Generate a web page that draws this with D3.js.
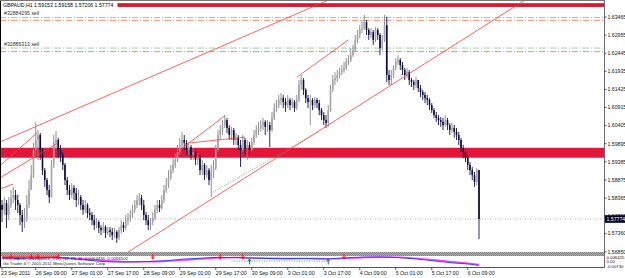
<!DOCTYPE html>
<html><head><meta charset="utf-8">
<script src="https://cdn.jsdelivr.net/npm/d3@7"></script>
<style>body{margin:0;background:#fff;overflow:hidden}svg{display:block;font-family:"Liberation Sans",Arial,sans-serif}</style>
</head><body><svg id="c" width="625" height="278"></svg>
<script>
const symbolTitle = "GBPAUD,H1  1.59153 1.59158 1.57206 1.57774";
const opens = [
1.5817,1.5803,1.5822,1.5789,1.5817,1.5837,1.5845,1.5831,1.5817,1.5789,
1.5769,1.5780,1.5817,1.5859,1.5901,1.5972,1.6000,1.6014,1.5972,1.5915,
1.5887,1.5859,1.5839,1.5930,1.5994,1.6000,1.5972,1.5958,1.5930,1.5887,
1.5859,1.5845,1.5865,1.5851,1.5831,1.5839,1.5817,1.5803,1.5817,1.5794,
1.5789,1.5774,1.5760,1.5769,1.5752,1.5746,1.5755,1.5738,1.5746,1.5741,
1.5732,1.5741,1.5724,1.5746,1.5760,1.5752,1.5774,1.5780,1.5789,1.5803,
1.5817,1.5831,1.5837,1.5817,1.5789,1.5774,1.5760,1.5769,1.5780,1.5803,
1.5817,1.5808,1.5831,1.5859,1.5873,1.5893,1.5915,1.5930,1.5944,1.5966,
1.5986,1.6000,1.5992,1.5972,1.5980,1.5958,1.5966,1.5944,1.5949,1.5915,
1.5930,1.5901,1.5915,1.5887,1.5910,1.5921,1.5972,1.6014,1.6028,1.6042,
1.6056,1.6034,1.6014,1.6028,1.6000,1.6006,1.5986,1.5972,1.6000,1.5977,
1.5986,1.5972,1.5994,1.6014,1.6028,1.6034,1.6042,1.6051,1.6037,1.6042,
1.6028,1.6062,1.6090,1.6098,1.6113,1.6118,1.6107,1.6098,1.6113,1.6098,
1.6107,1.6090,1.6113,1.6155,1.6169,1.6141,1.6118,1.6107,1.6113,1.6098,
1.6113,1.6104,1.6084,1.6070,1.6056,1.6048,1.6084,1.6141,1.6169,1.6174,
1.6183,1.6191,1.6197,1.6203,1.6220,1.6225,1.6239,1.6253,1.6282,1.6296,
1.6310,1.6315,1.6332,1.6310,1.6296,1.6304,1.6282,1.6310,1.6296,1.6259,
1.6282,1.6324,1.6183,1.6169,1.6183,1.6203,1.6220,1.6225,1.6211,1.6197,
1.6183,1.6191,1.6169,1.6163,1.6155,1.6169,1.6146,1.6135,1.6127,1.6118,
1.6113,1.6098,1.6084,1.6070,1.6062,1.6056,1.6051,1.6042,1.6056,1.6042,
1.6028,1.6034,1.6023,1.6014,1.6000,1.5977,1.5966,1.5949,1.5930,1.5915,
1.5901,1.5882,1.59153];
const highs = [
1.5831,1.5839,1.5831,1.5839,1.5859,1.5868,1.5859,1.5845,1.5822,1.5803,
1.5808,1.5845,1.5887,1.5930,1.5992,1.6051,1.6028,1.6020,1.5977,1.5921,
1.5893,1.5873,1.5944,1.6014,1.6025,1.6006,1.5986,1.5966,1.5935,1.5896,
1.5873,1.5879,1.5873,1.5865,1.5859,1.5845,1.5831,1.5831,1.5822,1.5808,
1.5797,1.5789,1.5780,1.5774,1.5760,1.5769,1.5760,1.5755,1.5755,1.5752,
1.5752,1.5746,1.5755,1.5774,1.5769,1.5789,1.5794,1.5803,1.5817,1.5831,
1.5845,1.5851,1.5845,1.5831,1.5797,1.5789,1.5780,1.5797,1.5817,1.5831,
1.5831,1.5845,1.5873,1.5893,1.5915,1.5930,1.5949,1.5963,1.5986,1.6006,
1.6023,1.6014,1.6000,1.5994,1.5986,1.5977,1.5972,1.5963,1.5958,1.5944,
1.5935,1.5930,1.5921,1.5930,1.5944,1.5986,1.6028,1.6042,1.6056,1.6070,
1.6062,1.6042,1.6037,1.6034,1.6020,1.6014,1.6000,1.6014,1.6006,1.6000,
1.5994,1.6006,1.6028,1.6042,1.6051,1.6056,1.6062,1.6056,1.6056,1.6051,
1.6079,1.6104,1.6113,1.6127,1.6132,1.6127,1.6118,1.6127,1.6118,1.6118,
1.6113,1.6127,1.6169,1.6183,1.6174,1.6146,1.6127,1.6127,1.6118,1.6121,
1.6118,1.6113,1.6090,1.6079,1.6070,1.6098,1.6155,1.6183,1.6191,1.6197,
1.6203,1.6211,1.6220,1.6231,1.6239,1.6259,1.6268,1.6296,1.6310,1.6324,
1.6338,1.6352,1.6338,1.6315,1.6315,1.6310,1.6318,1.6315,1.6301,1.6296,
1.6352,1.6347,1.6197,1.6197,1.6211,1.6231,1.6239,1.6231,1.6220,1.6203,
1.6203,1.6197,1.6174,1.6169,1.6177,1.6169,1.6155,1.6141,1.6135,1.6127,
1.6118,1.6104,1.6090,1.6079,1.6070,1.6065,1.6062,1.6070,1.6062,1.6048,
1.6048,1.6042,1.6034,1.6023,1.6006,1.5986,1.5972,1.5958,1.5938,1.5924,
1.5910,1.5921,1.59158];
const lows = [
1.5769,1.5789,1.5752,1.5774,1.5808,1.5822,1.5803,1.5794,1.5760,1.5741,
1.5752,1.5769,1.5808,1.5859,1.5893,1.5958,1.5944,1.5944,1.5901,1.5868,
1.5845,1.5822,1.5837,1.5921,1.5972,1.5949,1.5938,1.5915,1.5873,1.5845,
1.5831,1.5837,1.5831,1.5811,1.5817,1.5803,1.5789,1.5794,1.5780,1.5774,
1.5760,1.5746,1.5752,1.5738,1.5732,1.5738,1.5724,1.5732,1.5727,1.5718,
1.5724,1.5710,1.5718,1.5738,1.5741,1.5746,1.5760,1.5769,1.5780,1.5794,
1.5808,1.5817,1.5803,1.5774,1.5760,1.5746,1.5746,1.5760,1.5774,1.5794,
1.5797,1.5803,1.5822,1.5851,1.5865,1.5887,1.5907,1.5921,1.5938,1.5958,
1.5977,1.5972,1.5958,1.5958,1.5944,1.5944,1.5930,1.5930,1.5901,1.5901,
1.5887,1.5893,1.5873,1.5839,1.5893,1.5915,1.5966,1.6000,1.6014,1.6034,
1.6020,1.6000,1.6000,1.5986,1.5986,1.5972,1.5924,1.5966,1.5958,1.5944,
1.5958,1.5966,1.5986,1.6006,1.6014,1.6023,1.6028,1.6014,1.6023,1.5980,
1.6023,1.6056,1.6079,1.6090,1.6098,1.6090,1.6079,1.6090,1.6084,1.6090,
1.6079,1.6084,1.6107,1.6141,1.6127,1.6104,1.6090,1.6042,1.6084,1.6090,
1.6090,1.6070,1.6056,1.6042,1.6034,1.6037,1.6079,1.6135,1.6155,1.6163,
1.6174,1.6183,1.6189,1.6197,1.6211,1.6220,1.6234,1.6248,1.6273,1.6287,
1.6301,1.6310,1.6296,1.6282,1.6287,1.6268,1.6276,1.6282,1.6239,1.6253,
1.6276,1.6163,1.6155,1.6155,1.6174,1.6197,1.6211,1.6197,1.6183,1.6169,
1.6174,1.6155,1.6149,1.6141,1.6146,1.6135,1.6121,1.6113,1.6104,1.6098,
1.6084,1.6076,1.6062,1.6051,1.6042,1.6037,1.6028,1.6037,1.6028,1.6014,
1.6020,1.6006,1.6000,1.5986,1.5966,1.5949,1.5938,1.5915,1.5901,1.5887,
1.5868,1.5873,1.57206];
const closes = [
1.5803,1.5822,1.5789,1.5817,1.5837,1.5845,1.5831,1.5817,1.5789,1.5769,
1.5780,1.5817,1.5859,1.5901,1.5972,1.6000,1.6014,1.5972,1.5915,1.5887,
1.5859,1.5839,1.5930,1.5994,1.6000,1.5972,1.5958,1.5930,1.5887,1.5859,
1.5845,1.5865,1.5851,1.5831,1.5839,1.5817,1.5803,1.5817,1.5794,1.5789,
1.5774,1.5760,1.5769,1.5752,1.5746,1.5755,1.5738,1.5746,1.5741,1.5732,
1.5741,1.5724,1.5746,1.5760,1.5752,1.5774,1.5780,1.5789,1.5803,1.5817,
1.5831,1.5837,1.5817,1.5789,1.5774,1.5760,1.5769,1.5780,1.5803,1.5817,
1.5808,1.5831,1.5859,1.5873,1.5893,1.5915,1.5930,1.5944,1.5966,1.5986,
1.6000,1.5992,1.5972,1.5980,1.5958,1.5966,1.5944,1.5949,1.5915,1.5930,
1.5901,1.5915,1.5887,1.5910,1.5921,1.5972,1.6014,1.6028,1.6042,1.6056,
1.6034,1.6014,1.6028,1.6000,1.6006,1.5986,1.5972,1.6000,1.5977,1.5986,
1.5972,1.5994,1.6014,1.6028,1.6034,1.6042,1.6051,1.6037,1.6042,1.6028,
1.6062,1.6090,1.6098,1.6113,1.6118,1.6107,1.6098,1.6113,1.6098,1.6107,
1.6090,1.6113,1.6155,1.6169,1.6141,1.6118,1.6107,1.6113,1.6098,1.6113,
1.6104,1.6084,1.6070,1.6056,1.6048,1.6084,1.6141,1.6169,1.6174,1.6183,
1.6191,1.6197,1.6203,1.6220,1.6225,1.6239,1.6253,1.6282,1.6296,1.6310,
1.6315,1.6332,1.6310,1.6296,1.6304,1.6282,1.6310,1.6296,1.6259,1.6282,
1.6324,1.6183,1.6169,1.6183,1.6203,1.6220,1.6225,1.6211,1.6197,1.6183,
1.6191,1.6169,1.6163,1.6155,1.6169,1.6146,1.6135,1.6127,1.6118,1.6113,
1.6098,1.6084,1.6070,1.6062,1.6056,1.6051,1.6042,1.6056,1.6042,1.6028,
1.6034,1.6023,1.6014,1.6000,1.5977,1.5966,1.5949,1.5930,1.5915,1.5901,
1.5882,1.59153,1.57774];

const timeLabels = ["23 Sep 2011","26 Sep 09:00","27 Sep 01:00","27 Sep 17:00","28 Sep 09:00","29 Sep 01:00","29 Sep 17:00","30 Sep 09:00","3 Oct 01:00","3 Oct 17:00","4 Oct 09:00","5 Oct 01:00","5 Oct 17:00","6 Oct 09:00"];
const timeLabelBars = [0,15,31,47,63,79,95,111,127,143,159,175,191,207];
const priceTickLabels = ["1.63465","1.62955","1.62445","1.61935","1.61425","1.60915","1.60405","1.59895","1.59385","1.58875","1.58365","1.57855","1.57360","1.56850"];
const lastPrice = 1.57774;
const zoneLow = 1.5950, zoneHigh = 1.5978;
const topLevel = 1.6380, topLevelStartBar = 51.5;
const orderLabels = ["#32884295 sell", "#32885313 sell"];
const orderPrices = [1.6345, 1.6259];
const orderStops = [1.6337, 1.6249];
const trendLines = [
  [-1, 1.5994, 145, 1.6394],
  [-1, 1.5927, 15.6, 1.6020],
  [-1, 1.5893, 24.9, 1.5992],
  [-1, 1.5862, 4.9, 1.5876],
  [79, 1.5972, 99, 1.6068],
  [83.6, 1.5992, 108, 1.6008],
  [131, 1.6177, 154, 1.6282],
  [56, 1.5684, 232.4, 1.6394]
];
const dottedLine = [93.8, 1.5853, 140.4, 1.6022];

const indTitle = "FX5_MACD_Divergence_V1.1 (12, 26, 9)  -0.0064435  -0.0064502";
const copyright = "Go Trader 4 \u00a9 2001-2011 MetaQuotes Software Corp.";
const indTickLabels = ["0.006425","0.00","-0.00730"];
const indTickValues = [0.006425, 0.0, -0.0073];
const macdBars = [0,8,16,24,32,40,48,56,64,72,80,88,96,104,112,120,128,136,144,152,160,168,176,184,192,200,208,212];
const macdMain = [0.0050,0.0045,0.0055,0.0058,0.0035,0.0010,-0.0010,-0.0012,-0.0005,0.0005,0.0030,0.0045,0.0058,0.0055,0.0045,0.0040,0.0040,0.0042,0.0035,0.0050,0.0062,0.0064,0.0055,0.0035,0.0005,-0.0025,-0.0045,-0.0064];
const macdSignal = [0.0055,0.0050,0.0050,0.0055,0.0045,0.0025,0.0005,-0.0008,-0.0008,-0.0002,0.0015,0.0035,0.0050,0.0056,0.0050,0.0044,0.0040,0.0041,0.0038,0.0042,0.0055,0.0062,0.0060,0.0045,0.0020,-0.0010,-0.0035,-0.0050];
const bearArrowBars = [4,13,16,25,67,97,107,152];
const bullArrowBars = [110,145];
const bearDivLine = [0, 0.0068, 25, 0.0068];
const bullDivLine = [102, 0.0003, 145, 0.0003];

// ---------- layout ----------
const RX = 604, MB = 252, IT = 256, IB = 267;
const FS = 5.2;
const svg = d3.select("#c");
svg.append("rect").attr("width",625).attr("height",278).attr("fill","#fff");
const x = d3.scaleLinear().domain([0,212]).range([2,479]);
const y = d3.scaleLinear().domain([1.5685,1.63465]).range([251.8,17]);
const yi = d3.scaleLinear().domain([-0.0073,0.006425]).range([266,257]);

const defs = svg.append("defs");
defs.append("clipPath").attr("id","cm").append("rect").attr("x",0).attr("y",0).attr("width",RX).attr("height",MB);
defs.append("clipPath").attr("id","ci").append("rect").attr("x",0).attr("y",IT-2).attr("width",RX).attr("height",IB-IT+2);
const pat = defs.append("pattern").attr("id","sep").attr("width",2).attr("height",2).attr("patternUnits","userSpaceOnUse");
pat.append("rect").attr("width",2).attr("height",2).attr("fill","#b4b4b4");
pat.append("rect").attr("width",1).attr("height",1).attr("fill","#808080");
pat.append("rect").attr("x",1).attr("y",1).attr("width",1).attr("height",1).attr("fill","#808080");

const main = svg.append("g").attr("clip-path","url(#cm)");

// zone
main.append("rect").attr("x",0).attr("width",RX)
  .attr("y",y(zoneHigh)).attr("height",y(zoneLow)-y(zoneHigh)).attr("fill","#e3163a");
// order lines
orderPrices.forEach((p,k)=>{
  main.append("line").attr("x1",0).attr("x2",RX).attr("y1",y(p)).attr("y2",y(p))
    .attr("stroke","#9ad49a").attr("stroke-width",1).attr("stroke-dasharray","6,2,1,2");
  main.append("line").attr("x1",0).attr("x2",RX).attr("y1",y(orderStops[k])).attr("y2",y(orderStops[k]))
    .attr("stroke","#ff8a6a").attr("stroke-width",1).attr("stroke-dasharray","6,2,1,2");
  main.append("text").attr("x",4).attr("y",y(p)-2.5).attr("font-size",FS).attr("fill","#333")
    .text(orderLabels[k]);
});
// top level line
main.append("rect").attr("x",x(topLevelStartBar)).attr("width",RX-x(topLevelStartBar))
  .attr("y",y(topLevel)-1.6).attr("height",3.2).attr("fill","#e8102a").attr("stroke","#b00018").attr("stroke-width",0.5);
// last price dotted
main.append("line").attr("x1",0).attr("x2",RX).attr("y1",y(lastPrice)).attr("y2",y(lastPrice))
  .attr("stroke","#a8a8a8").attr("stroke-width",0.8).attr("stroke-dasharray","1,1.5");

// candles
const idx = d3.range(closes.length);
const cg = main.append("g");
idx.forEach(i=>{
  const bull = closes[i] >= opens[i];
  cg.append("line").attr("x1",x(i)).attr("x2",x(i)).attr("y1",y(highs[i])).attr("y2",y(lows[i]))
    .attr("stroke", bull ? "#858585" : "#141444").attr("stroke-width",0.9);
  const top = y(Math.max(opens[i],closes[i])), bot = y(Math.min(opens[i],closes[i]));
  cg.append("rect").attr("x",x(i)-0.8).attr("width",1.6).attr("y",top).attr("height",Math.max(0.8,bot-top))
    .attr("fill", bull ? "#a4a4a4" : "#0a0a40");
});

// trend lines
trendLines.forEach(t=>{
  main.append("line").attr("x1",x(t[0])).attr("y1",y(t[1])).attr("x2",x(t[2])).attr("y2",y(t[3]))
    .attr("stroke","#ff3a3a").attr("stroke-width",0.8);
});
main.append("line").attr("x1",x(dottedLine[0])).attr("y1",y(dottedLine[1])).attr("x2",x(dottedLine[2])).attr("y2",y(dottedLine[3]))
  .attr("stroke","#3aa03a").attr("stroke-width",0.8).attr("stroke-dasharray","1,1.5");

// title
svg.append("text").attr("x",3).attr("y",7.2).attr("font-size",FS).attr("fill","#000").text(symbolTitle);

// separator
svg.append("rect").attr("x",0).attr("y",MB).attr("width",RX).attr("height",IT-MB).attr("fill","url(#sep)");

// indicator
const ind = svg.append("g").attr("clip-path","url(#ci)");
const lineGen = d3.line().x((d,k)=>x(macdBars[k])).y(d=>yi(d)).curve(d3.curveMonotoneX);
ind.append("path").datum(macdSignal).attr("d",lineGen).attr("fill","none").attr("stroke","#ff44ff").attr("stroke-width",1.6);
ind.append("path").datum(macdMain).attr("d",lineGen).attr("fill","none").attr("stroke","#3c3cff").attr("stroke-width",1);
ind.append("line").attr("x1",x(bearDivLine[0])).attr("x2",x(bearDivLine[2])).attr("y1",yi(bearDivLine[1])).attr("y2",yi(bearDivLine[3]))
  .attr("stroke","#ff2020").attr("stroke-width",1);
ind.append("line").attr("x1",x(bullDivLine[0])).attr("x2",x(bullDivLine[2])).attr("y1",yi(bullDivLine[1])).attr("y2",yi(bullDivLine[3]))
  .attr("stroke","#20a020").attr("stroke-width",0.8).attr("stroke-dasharray","1,1.5");
svg.append("text").attr("x",3).attr("y",260.2).attr("font-size",4.3).attr("fill","#222").text(indTitle);
svg.append("text").attr("x",3).attr("y",264.6).attr("font-size",4.3).attr("fill","#222").text(copyright);
bearArrowBars.forEach(b=>{
  const cx = x(b);
  svg.append("path").attr("d",`M${cx},254 L${cx},258.5 M${cx-1.5},256.5 L${cx},259 L${cx+1.5},256.5`)
    .attr("stroke","#ff0000").attr("stroke-width",0.9).attr("fill","none");
});
bullArrowBars.forEach(b=>{
  const cx = x(b);
  svg.append("path").attr("d",`M${cx},264.5 L${cx},259.5 M${cx-1.5},261.5 L${cx},259 L${cx+1.5},261.5`)
    .attr("stroke","#008800").attr("stroke-width",0.9).attr("fill","none");
});

// frame
svg.append("line").attr("x1",0.5).attr("x2",0.5).attr("y1",0).attr("y2",IB).attr("stroke","#000").attr("stroke-width",1);
svg.append("line").attr("x1",0).attr("x2",RX).attr("y1",0.5).attr("y2",0.5).attr("stroke","#777").attr("stroke-width",1);
svg.append("line").attr("x1",0).attr("x2",RX+0.5).attr("y1",IB+0.5).attr("y2",IB+0.5).attr("stroke","#555").attr("stroke-width",1);
svg.append("line").attr("x1",RX+0.5).attr("x2",RX+0.5).attr("y1",0).attr("y2",IB+1).attr("stroke","#6a6a7a").attr("stroke-width",1);

// right axis
const pv = priceTickLabels.map(Number);
pv.forEach((v,k)=>{
  svg.append("line").attr("x1",RX).attr("x2",RX+2.5).attr("y1",y(v)).attr("y2",y(v)).attr("stroke","#333").attr("stroke-width",0.8);
  svg.append("text").attr("x",RX+3.5).attr("y",y(v)+1.8).attr("font-size",FS).attr("fill","#111").text(priceTickLabels[k]);
});
svg.append("rect").attr("x",RX+1).attr("y",y(lastPrice)-3.8).attr("width",21).attr("height",7.6).attr("fill","#00001e");
svg.append("text").attr("x",RX+2.5).attr("y",y(lastPrice)+1.9).attr("font-size",FS).attr("fill","#fff").text(lastPrice.toFixed(5));
indTickValues.forEach((v,k)=>{
  svg.append("text").attr("x",RX+2.5).attr("y",yi(v)+1.6).attr("font-size",4.3).attr("fill","#111").text(indTickLabels[k]);
});

// time axis
timeLabelBars.forEach((b,k)=>{
  svg.append("line").attr("x1",x(b)).attr("x2",x(b)).attr("y1",IB+1).attr("y2",IB+3).attr("stroke","#333").attr("stroke-width",0.8);
  svg.append("text").attr("x",x(b)+(k===0?-1:0)).attr("y",275.2).attr("font-size",FS).attr("fill","#111").text(timeLabels[k]);
});
</script></body></html>
